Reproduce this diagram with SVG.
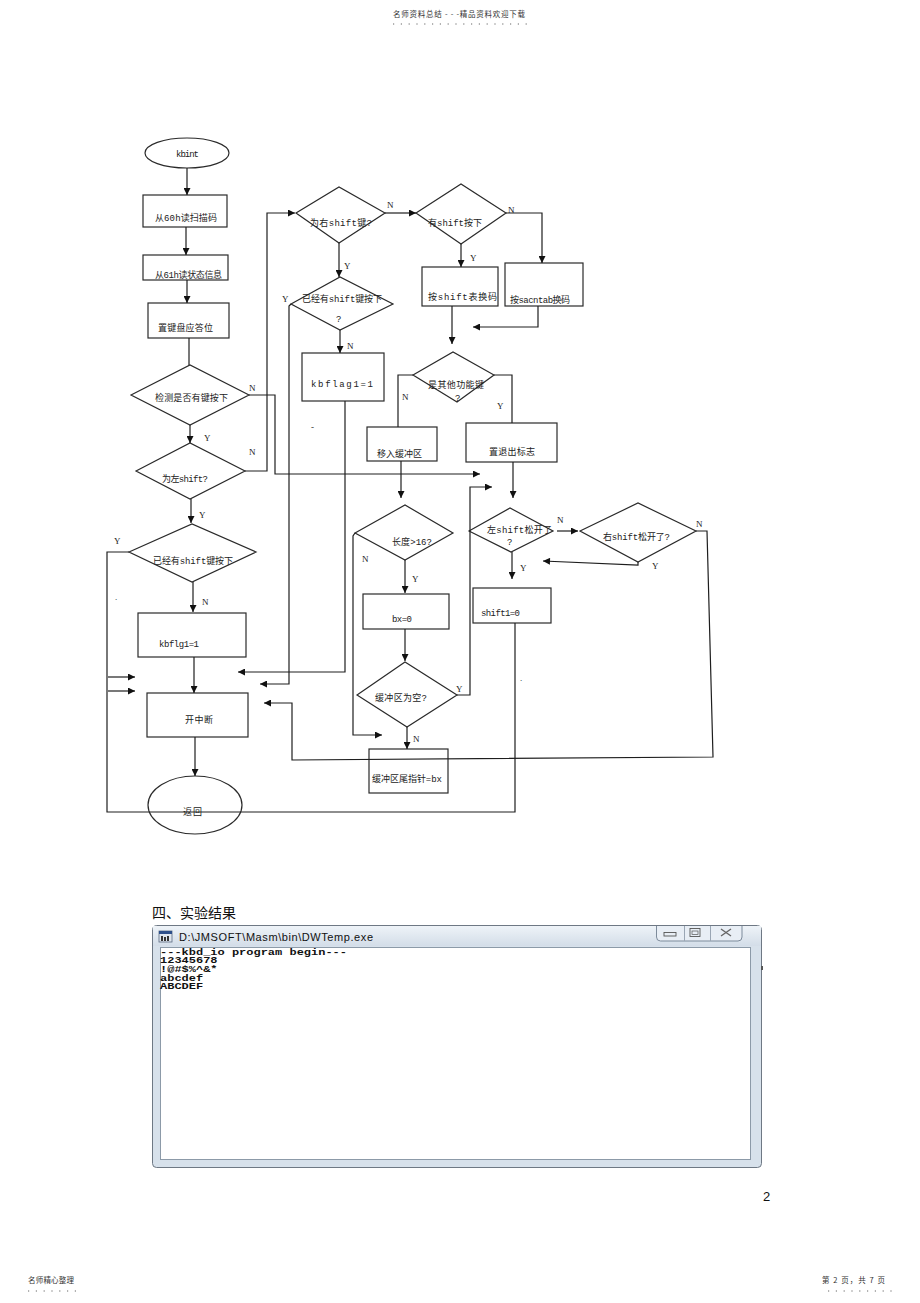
<svg xmlns="http://www.w3.org/2000/svg" width="920" height="1303" viewBox="0 0 920 1303">
<style>
.bx{fill:#fff;stroke:#2a2a2a;stroke-width:1.2}
.t{font-family:"Liberation Mono","Noto Sans CJK SC",monospace;font-size:9px;fill:#222}
.yn{font-family:"Liberation Serif","Noto Sans CJK SC",serif;font-size:9px;fill:#222}
.ln{fill:none;stroke:#1e1e1e;stroke-width:1.2}
.ar{fill:none;stroke:#1e1e1e;stroke-width:1.2;marker-end:url(#arr)}
.pg{font-family:"Noto Sans CJK SC","Liberation Sans",sans-serif;font-size:7.5px;fill:#333}
.dots{stroke:#666;stroke-width:1;stroke-dasharray:1.2 6.6}
.con{font-family:"Liberation Mono",monospace;font-size:12px;font-weight:bold;fill:#111}
</style>
<defs>
<marker id="arr" viewBox="0 0 10 10" refX="10" refY="5" markerWidth="8" markerHeight="7" orient="auto" markerUnits="userSpaceOnUse">
<path d="M0,0 L10,5 L0,10 z" fill="#111"/>
</marker>
<linearGradient id="tb" x1="0" y1="0" x2="0" y2="1">
<stop offset="0" stop-color="#eef3f8"/>
<stop offset="1" stop-color="#d3dde8"/>
</linearGradient>
</defs>
<rect width="920" height="1303" fill="#fff"/>

<!-- page header -->
<g id="page-header">
<text class="pg" x="393" y="17" textLength="132">名师资料总结 - - -精品资料欢迎下载</text>
<line class="dots" x1="393" y1="24" x2="527" y2="24"/>
</g>

<!-- nodes -->
<g id="n-kbint"><ellipse class="bx" cx="187" cy="153" rx="42" ry="15"/><text class="t" x="176" y="157" textLength="23">kbint</text></g>
<g id="n-read60"><rect class="bx" x="143" y="195" width="84" height="32"/><text class="t" x="155" y="221" textLength="62">从60h读扫描码</text></g>
<g id="n-read61"><rect class="bx" x="143" y="255" width="85" height="25"/><text class="t" x="155" y="278" textLength="67">从61h读状态信息</text></g>
<g id="n-ack"><rect class="bx" x="148" y="303" width="81" height="35"/><text class="t" x="158" y="331" textLength="55">置键盘应答位</text></g>
<g id="n-anykey"><polygon class="bx" points="131,395 190,365 249,395 190,425"/><text class="t" x="155" y="401" textLength="73">检测是否有键按下</text></g>
<g id="n-leftshift"><polygon class="bx" points="136,471 190,443 245,471 190,499"/><text class="t" x="162" y="482" textLength="46">为左shift?</text></g>
<g id="n-already1"><polygon class="bx" points="129,552 192,524 256,552 192,582"/><text class="t" x="153" y="564" textLength="80">已经有shift键按下</text></g>
<g id="n-kbflg1"><rect class="bx" x="138" y="613" width="108" height="44"/><text class="t" x="159" y="647" textLength="40">kbflg1=1</text></g>
<g id="n-openint"><rect class="bx" x="147" y="693" width="101" height="44"/><text class="t" x="185" y="723" textLength="28">开中断</text></g>
<g id="n-return"><ellipse class="bx" cx="195" cy="805" rx="47" ry="29"/><text class="t" x="183" y="815" textLength="19">返回</text></g>

<g id="n-rightshift"><polygon class="bx" points="296,213 339,187 385,213 339,243"/><text class="t" x="310" y="226" textLength="62">为右shift键?</text></g>
<g id="n-already2"><polygon class="bx" points="291,304 340,277 393,304 340,330"/><text class="t" x="302" y="302" textLength="80">已经有shift键按下</text><text class="t" x="336" y="322">?</text></g>
<g id="n-kbflag1"><rect class="bx" x="302" y="353" width="82" height="48"/><text class="t" x="311" y="387" textLength="62">kbflag1=1</text></g>
<g id="n-hasshift"><polygon class="bx" points="416,213 461,184 506,213 461,244"/><text class="t" x="428" y="226" textLength="54">有shift按下</text></g>
<g id="n-shifttab"><rect class="bx" x="422" y="267" width="76" height="39"/><text class="t" x="428" y="300" textLength="69">按shift表换码</text></g>
<g id="n-sacntab"><rect class="bx" x="505" y="263" width="78" height="43"/><text class="t" x="510" y="303" textLength="60">按sacntab换码</text></g>
<g id="n-funckey"><polygon class="bx" points="413,375 453,352 494,375 457,402"/><text class="t" x="428" y="388" textLength="56">是其他功能键</text><text class="t" x="455" y="401">?</text></g>
<g id="n-tobuf"><rect class="bx" x="367" y="427" width="70" height="34"/><text class="t" x="377" y="457" textLength="45">移入缓冲区</text></g>
<g id="n-exitflag"><rect class="bx" x="466" y="423" width="91" height="39"/><text class="t" x="489" y="455" textLength="46">置退出标志</text></g>
<g id="n-len16"><polygon class="bx" points="355,533 405,505 453,533 405,560"/><text class="t" x="392" y="545" textLength="40">长度&gt;16?</text></g>
<g id="n-bx0"><rect class="bx" x="363" y="594" width="86" height="35"/><text class="t" x="392" y="622" textLength="20">bx=0</text></g>
<g id="n-bufempty"><polygon class="bx" points="357,695 405,662 457,695 407,727"/><text class="t" x="375" y="701" textLength="52">缓冲区为空?</text></g>
<g id="n-buftail"><rect class="bx" x="369" y="749" width="79" height="44"/><text class="t" x="372" y="782" textLength="70">缓冲区尾指针=bx</text></g>
<g id="n-leftrel"><polygon class="bx" points="469,531 510,508 553,531 511,552"/><text class="t" x="487" y="533" textLength="65">左shift松开了</text><text class="t" x="507" y="545">?</text></g>
<g id="n-rightrel"><polygon class="bx" points="580,531 638,503 696,531 638,562"/><text class="t" x="603" y="540" textLength="67">右shift松开了?</text></g>
<g id="n-shift1"><rect class="bx" x="473" y="588" width="78" height="35"/><text class="t" x="481" y="616" textLength="39">shift1=0</text></g>

<!-- connectors -->
<g id="connectors">
<path class="ar" d="M187,168 V195"/>
<path class="ar" d="M186,227 V255"/>
<path class="ar" d="M187,280 V303"/>
<path class="ln" d="M189,338 V365"/>
<path class="ar" d="M190,425 V443"/>
<path class="ar" d="M249,395 H275 V474 H480"/>
<path class="ar" d="M245,471 H267 V213 H295"/>
<path class="ar" d="M191,499 V523"/>
<path class="ln" d="M129,552 H107 V812 H515 V623"/>
<path class="ar" d="M193,582 V612"/>
<path class="ar" d="M194,657 V693"/>
<path class="ar" d="M108,677 H135"/>
<path class="ar" d="M108,691 H135"/>
<path class="ar" d="M195,737 V776"/>
<path class="ar" d="M385,213 H416"/>
<path class="ar" d="M339,243 V277"/>
<path class="ar" d="M340,330 V353"/>
<path class="ar" d="M291,304 L289,306 V684 H260"/>
<path class="ar" d="M345,401 V672 H238"/>
<path class="ar" d="M506,213 H542 V263"/>
<path class="ar" d="M461,244 V267"/>
<path class="ar" d="M538,306 V327 H473"/>
<path class="ar" d="M452,306 V344"/>
<path class="ln" d="M413,375 H398 V427"/>
<path class="ln" d="M494,375 H512 V423"/>
<path class="ar" d="M401,461 V498"/>
<path class="ar" d="M513,462 V498"/>
<path class="ar" d="M355,533 L353,536 V735 H382"/>
<path class="ar" d="M405,560 V593"/>
<path class="ar" d="M405,629 V661"/>
<path class="ar" d="M457,695 H470 V487 H492"/>
<path class="ar" d="M407,727 V749"/>
<path class="ar" d="M557,531 H578"/>
<path class="ar" d="M638,562 V565 L543,561"/>
<path class="ar" d="M512,552 V579"/>
<path class="ar" d="M696,531 H707 L713,757 L292,760 V703 H264"/>
</g>

<g id="edge-labels">
<text class="yn" x="249" y="391">N</text>
<text class="yn" x="204" y="441">Y</text>
<text class="yn" x="249" y="455">N</text>
<text class="yn" x="199" y="518">Y</text>
<text class="yn" x="114" y="544">Y</text>
<text class="yn" x="202" y="605">N</text>
<text class="yn" x="387" y="208">N</text>
<text class="yn" x="344" y="269">Y</text>
<text class="yn" x="282" y="302">Y</text>
<text class="yn" x="347" y="349">N</text>
<text class="yn" x="508" y="213">N</text>
<text class="yn" x="470" y="261">Y</text>
<text class="yn" x="402" y="400">N</text>
<text class="yn" x="497" y="409">Y</text>
<text class="yn" x="362" y="562">N</text>
<text class="yn" x="412" y="582">Y</text>
<text class="yn" x="456" y="692">Y</text>
<text class="yn" x="413" y="742">N</text>
<text class="yn" x="557" y="523">N</text>
<text class="yn" x="696" y="527">N</text>
<text class="yn" x="652" y="569">Y</text>
<text class="yn" x="520" y="571">Y</text>
<text class="yn" x="311" y="430">-</text>
<text class="yn" x="115" y="600">.</text>
<text class="yn" x="520" y="681">.</text>
</g>

<!-- results section -->
<g id="section-title">
<text x="152" y="918" font-family="Noto Sans CJK SC, sans-serif" font-size="14" fill="#111">四、实验结果</text>
</g>

<g id="console-window">
<rect x="152.5" y="925.5" width="609" height="242" rx="4" fill="#d7e1eb" stroke="#6e7884" stroke-width="1"/>
<rect x="153" y="926" width="608" height="20" fill="url(#tb)"/>
<rect x="159" y="931" width="13" height="11" fill="#dfe6ee" stroke="#5a6a80" stroke-width="0.8"/>
<rect x="159" y="931" width="13" height="3" fill="#2d4f8a"/>
<rect x="161" y="936" width="2" height="5" fill="#333"/>
<rect x="164" y="937" width="2" height="4" fill="#333"/>
<rect x="167" y="936" width="2" height="5" fill="#333"/>
<text x="179" y="941" font-family="Liberation Sans, Arial, sans-serif" font-size="11" fill="#111" textLength="194">D:\JMSOFT\Masm\bin\DWTemp.exe</text>
<path d="M656.5,926 V937 Q656.5,941 660.5,941 H738 Q742,941 742,937 V926" fill="#e8eef5" stroke="#7d8b9b" stroke-width="1"/>
<line x1="684.5" y1="926" x2="684.5" y2="941" stroke="#9aa6b4"/>
<line x1="710.5" y1="926" x2="710.5" y2="941" stroke="#9aa6b4"/>
<rect x="664" y="932.5" width="12" height="3.5" fill="none" stroke="#555" stroke-width="0.9"/>
<rect x="690" y="928.5" width="10" height="8" fill="none" stroke="#555" stroke-width="0.9"/>
<rect x="692" y="931" width="6" height="3.5" fill="none" stroke="#555" stroke-width="0.7"/>
<path d="M721,929 L731,936 M731,929 L721,936" stroke="#666" stroke-width="1.4"/>
<rect x="160.5" y="947.5" width="590" height="212" fill="#fff" stroke="#8c9aa8" stroke-width="1"/>
<rect x="761" y="966" width="2" height="4" fill="#555"/>
<g transform="translate(160,955) scale(1,0.7)">
<text class="con" x="0" y="0">---kbd_io program begin---</text>
<text class="con" x="0" y="12">12345678</text>
<text class="con" x="0" y="24.5">!@#$%^&amp;*</text>
<text class="con" x="0" y="37">abcdef</text>
<text class="con" x="0" y="49">ABCDEF</text>
</g>
</g>

<g id="page-number">
<text x="763" y="1201" font-family="Liberation Sans, Arial, sans-serif" font-size="13" fill="#111">2</text>
</g>

<g id="page-footer">
<text class="pg" x="28" y="1283" textLength="46">名师精心整理</text>
<line class="dots" x1="28" y1="1291" x2="78" y2="1291"/>
<text class="pg" x="822" y="1283" textLength="63">第 2 页，共 7 页</text>
<line class="dots" x1="828" y1="1291" x2="892" y2="1291"/>
</g>
</svg>
